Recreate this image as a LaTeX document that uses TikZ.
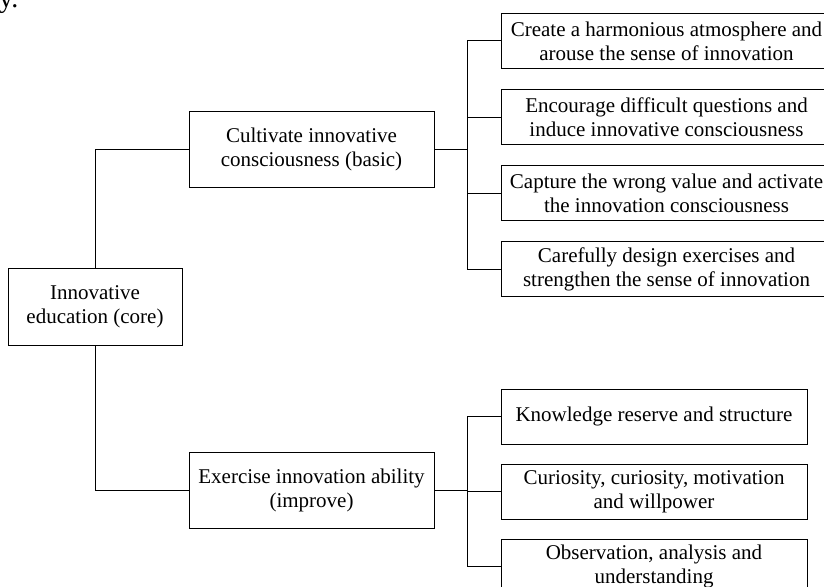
\documentclass[tikz,border=0pt]{standalone}
\usepackage{fontspec}
\setmainfont{Liberation Serif}
\usetikzlibrary{positioning}
\tikzset{
  block/.style={draw, line width=1pt, align=center, inner sep=2pt, font=\fontsize{21}{24}\selectfont},
  midblock/.style={block, minimum width=245pt, minimum height=76pt},
  leaf/.style={block, minimum width=306pt, minimum height=55pt},
  wideleaf/.style={leaf, minimum width=331pt},
  link/.style={line width=1pt}
}

\begin{document}
\begin{tikzpicture}[x=1pt, y=-1pt]
  \useasboundingbox (0,0) rectangle (824,586);
  \node[font=\fontsize{28}{32}\selectfont, anchor=base west, inner sep=0pt] (prev) at (-1,8) {y.};
  \node[block, minimum width=174pt, minimum height=77pt] (edu) at (95,306.5) {Innovative\\education (core)};
  \node[midblock] (cult) at (311.5,149) {Cultivate innovative\\consciousness (basic)};
  \node[midblock] (exer) at (311.5,490) {Exercise innovation ability\\(improve)};
  % upper branch
  \node[wideleaf] (atm) at (666.5,41) {Create a harmonious atmosphere and\\arouse the sense of innovation};
  \node[wideleaf, below=20pt of atm] (ques) {Encourage difficult questions and\\induce innovative consciousness};
  \node[wideleaf, below=20pt of ques] (wrong) {Capture the wrong value and activate\\the innovation consciousness};
  \node[wideleaf, below=20pt of wrong] (design) {Carefully design exercises and\\strengthen the sense of innovation};
  % lower branch
  \node[leaf] (know) at (654,416.5) {Knowledge reserve and structure};
  \node[leaf, below=19pt of know] (curi) {Curiosity, curiosity, motivation\\and willpower};
  \node[leaf, below=19pt of curi] (obs) {Observation, analysis and\\understanding};
  \coordinate (busA) at ([xshift=33pt]cult.east);
  \coordinate (busB) at ([xshift=33pt]exer.east);
  \draw[link] (edu.north) |- (cult.west);
  \draw[link] (edu.south) |- (exer.west);
  \draw[link] (cult.east) -- (busA);
  \draw[link] (exer.east) -- (busB);
  \foreach \n in {atm,ques,wrong,design}
    \draw[link] (busA) |- (\n.west);
  \foreach \n in {know,curi,obs}
    \draw[link] (busB) |- (\n.west);
\end{tikzpicture}
\end{document}
